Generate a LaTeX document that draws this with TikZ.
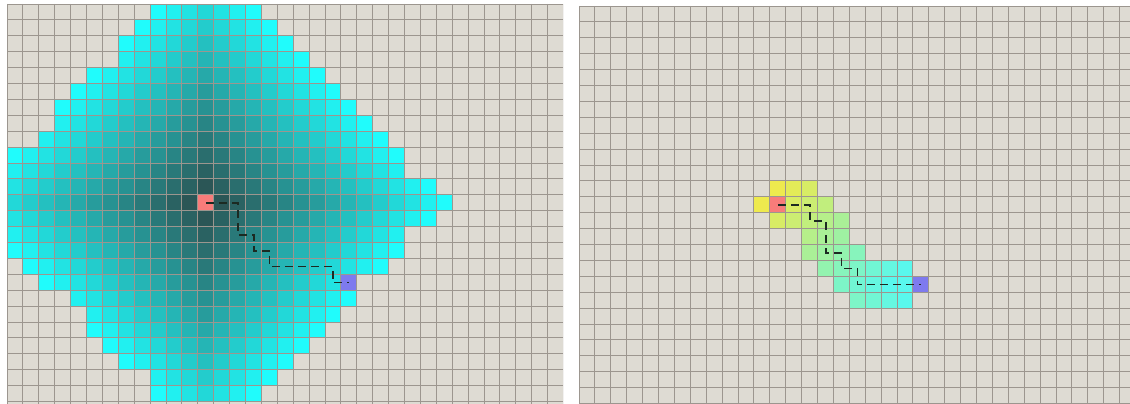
\documentclass[tikz,border=0pt]{standalone}
\usetikzlibrary{calc}
\definecolor{bgcell}{HTML}{DEDBD3}
\definecolor{gridcol}{HTML}{9C968F}
\definecolor{nearcol}{HTML}{2C4B4B}
\definecolor{farcol}{HTML}{20FCFC}
\definecolor{hotcol}{HTML}{F2EE2C}
\definecolor{coolcol}{HTML}{38FFF4}
\definecolor{startcol}{HTML}{F87C7A}
\definecolor{goalcol}{HTML}{7E7AEE}
\definecolor{pathcol}{HTML}{1C2A22}
\tikzstyle{gridline} = [gridcol, line width=0.9pt]
\tikzstyle{startcell} = [rectangle, inner sep=0pt, minimum size=15.9pt, fill=startcol]
\tikzstyle{goalcell} = [rectangle, inner sep=0pt, minimum size=15.9pt, fill=goalcol]
\tikzstyle{route} = [pathcol, line width=1.8pt, dash pattern=on 8pt off 5pt]
\tikzstyle{routeglow} = [white, line width=1.8pt, dash pattern=on 8pt off 5pt, opacity=0.85]

\begin{document}
\begin{tikzpicture}[x=1pt, y=-1pt]
\def\cs{15.9}
\fill[white] (0,0) rectangle (1130,404);
\useasboundingbox (0,0) rectangle (1130,404);

% left panel: wide search
\begin{scope}[shift={(7,4)}]
    \clip (0,0) rectangle (556,400);
    \fill[bgcell] (0,0) rectangle (556,400);
    \foreach \r/\a/\b in {0/9/15, 1/8/16, 2/7/17, 3/7/18, 4/5/19, 5/4/20, 6/3/21, 7/3/22,
        8/2/23, 9/0/24, 10/0/24, 11/0/26, 12/0/27, 13/0/26, 14/0/24, 15/0/24,
        16/1/23, 17/2/21, 18/4/21, 19/5/20, 20/5/19, 21/6/18, 22/7/17, 23/9/16, 24/9/15} {
        \foreach \c in {\a,...,\b} {
            \pgfmathtruncatemacro\pct{100*(abs(\c-12)+abs(\r-12))/15}
            \fill[farcol!\pct!nearcol] (\c*\cs,\r*\cs) rectangle ++(\cs,\cs);
        }
    }
    \node (startL) [startcell, anchor=north west] at (12*\cs,12*\cs) {};
    \node (goalL) [goalcell, anchor=north west] at (21*\cs,17*\cs) {};
    \foreach \k in {0,...,35} \draw[gridline] (\k*\cs,0) -- (\k*\cs,400);
    \foreach \k in {0,...,25} \draw[gridline] (0,\k*\cs) -- (556,\k*\cs);
    \draw[routeglow, shift={(0.9,0.9)}] (startL.center) -- ++(2*\cs,0) -- ++(0,2*\cs) -- ++(\cs,0) -- ++(0,\cs)
        -- ++(\cs,0) -- ++(0,\cs) -- ++(4*\cs,0) -- ++(0,\cs) -- (goalL.center);
    \draw[route] (startL.center) -- ++(2*\cs,0) -- ++(0,2*\cs) -- ++(\cs,0) -- ++(0,\cs)
        -- ++(\cs,0) -- ++(0,\cs) -- ++(4*\cs,0) -- ++(0,\cs) -- (goalL.center);
\end{scope}

% right panel: greedy search
\begin{scope}[shift={(579,6)}]
    \clip (0,0) rectangle (551,398);
    \fill[bgcell] (0,0) rectangle (551,398);
    \foreach \r/\a/\b in {11/12/14, 12/11/15, 13/12/16, 14/14/16, 15/14/17, 16/15/20, 17/16/20, 18/17/20} {
        \foreach \c in {\a,...,\b} {
            \pgfmathtruncatemacro\pct{min(100,max(0,100*(15-abs(\c-21)-abs(\r-17))/13))}
            \colorlet{mixcol}{coolcol!\pct!hotcol}
            \fill[mixcol!80!bgcell] (\c*\cs,\r*\cs) rectangle ++(\cs,\cs);
        }
    }
    \node (startR) [startcell, anchor=north west] at (12*\cs,12*\cs) {};
    \node (goalR) [goalcell, anchor=north west] at (21*\cs,17*\cs) {};
    \foreach \k in {0,...,35} \draw[gridline] (\k*\cs,0) -- (\k*\cs,398);
    \foreach \k in {0,...,25} \draw[gridline] (0,\k*\cs) -- (551,\k*\cs);
    \draw[route] (startR.center) -- ++(2*\cs,0) -- ++(0,\cs) -- ++(\cs,0) -- ++(0,2*\cs)
        -- ++(\cs,0) -- ++(0,\cs) -- ++(\cs,0) -- ++(0,\cs) -- (goalR.center);
\end{scope}
\end{tikzpicture}
\end{document}
